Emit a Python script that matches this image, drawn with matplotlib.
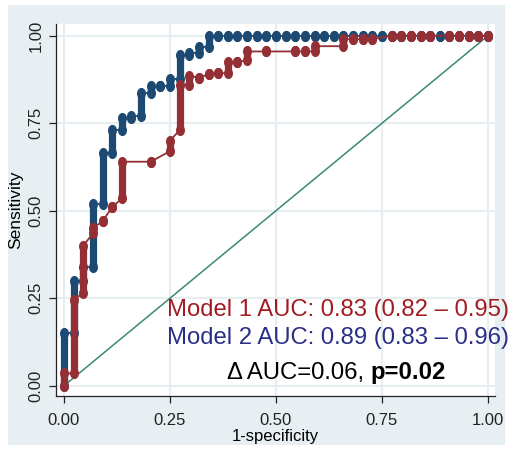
import matplotlib
matplotlib.use("Agg")
import matplotlib.pyplot as plt
from matplotlib import font_manager
from matplotlib.path import Path
from matplotlib.patches import Rectangle
import numpy as np

# ROC points: fp = number of false positives (out of n_neg), tpr stacks lo..hi
n_neg = 44

m2_fp = [0, 1, 2, 3, 4, 5, 6, 7, 8, 9, 10, 11, 12, 13, 14, 15,
         16, 17, 18, 19, 20, 21, 22, 23, 24, 25, 26, 27, 28, 29, 30,
         31, 32, 33, 34, 35, 36, 37, 38, 39, 40, 41, 42, 43, 44]
m2_lo = [0.00, 0.15, 0.30, 0.34, 0.52, 0.665, 0.73, 0.765, 0.77, 0.835, 0.855, 0.855, 0.875, 0.945, 0.95, 0.967,
         1.0, 1.0, 1.0, 1.0, 1.0, 1.0, 1.0, 1.0, 1.0, 1.0, 1.0, 1.0, 1.0, 1.0, 1.0,
         1.0, 1.0, 1.0, 1.0, 1.0, 1.0, 1.0, 1.0, 1.0, 1.0, 1.0, 1.0, 1.0, 1.0]
m2_hi = [0.15, 0.30, 0.34, 0.52, 0.665, 0.73, 0.765, 0.77, 0.835, 0.855, 0.855, 0.875, 0.945, 0.95, 0.967, 1.0,
         1.0, 1.0, 1.0, 1.0, 1.0, 1.0, 1.0, 1.0, 1.0, 1.0, 1.0, 1.0, 1.0, 1.0, 1.0,
         1.0, 1.0, 1.0, 1.0, 1.0, 1.0, 1.0, 1.0, 1.0, 1.0, 1.0, 1.0, 1.0, 1.0]

m1_fp = [0, 1, 2, 3, 4, 5, 6, 9, 11, 12, 13, 14, 15, 16, 17, 18, 19, 21, 24, 25, 26,
         29, 30, 31, 32, 34, 35, 36, 37, 38, 40, 41, 42, 43, 44]
m1_lo = [0.00, 0.035, 0.265, 0.435, 0.47, 0.51, 0.535, 0.64, 0.67, 0.73, 0.86, 0.88, 0.89, 0.893, 0.893, 0.924, 0.93,
         0.955, 0.955, 0.955, 0.955, 0.97, 0.99, 0.99, 0.99, 1.0, 1.0, 1.0, 1.0, 1.0, 1.0, 1.0, 1.0, 1.0, 1.0]
m1_hi = [0.035, 0.245, 0.40, 0.45, 0.47, 0.51, 0.64, 0.64, 0.70, 0.86, 0.885, 0.88, 0.89, 0.893, 0.924, 0.924, 0.955,
         0.955, 0.955, 0.955, 0.97, 0.99, 0.99, 0.99, 0.99, 1.0, 1.0, 1.0, 1.0, 1.0, 1.0, 1.0, 1.0, 1.0, 1.0]

ticks = [0, 0.25, 0.5, 0.75, 1.0]
tick_labels = ["0.00", "0.25", "0.50", "0.75", "1.00"]

line1 = "Model 1 AUC: 0.83 (0.82 \u2013 0.95)"
line2 = "Model 2 AUC: 0.89 (0.83 \u2013 0.96)"
line3a = "\u0394 AUC=0.06, "
line3b = "p=0.02"

RED = "#952f36"
BLUE = "#1c4a73"
GREEN = "#3a8a72"
BG = "#e8eff2"

names = set(font_manager.get_font_names())
narrow = "Liberation Sans Narrow" if "Liberation Sans Narrow" in names else "Liberation Sans"

fig = plt.figure(figsize=(5.11, 4.49), dpi=100)
fig.patch.set_facecolor("white")
fig.patches.append(Rectangle((8 / 511, 4 / 449), 497 / 511, 440 / 449,
                             transform=fig.transFigure, facecolor=BG,
                             edgecolor="none", zorder=-10))

ax = fig.add_axes([56 / 511, 53 / 449, 439 / 511, 372 / 449])
ax.set_facecolor("white")
ax.set_xlim(-8 / 424, 431 / 424)
ax.set_ylim(-10.3 / 350, 361.7 / 350)

for s in ["top", "right"]:
    ax.spines[s].set_visible(False)
for s in ["left", "bottom"]:
    ax.spines[s].set_color("#222222")
    ax.spines[s].set_linewidth(0.9)

ax.set_xticks(ticks)
ax.set_xticklabels(tick_labels, family=narrow, fontsize=12, color="#222222")
ax.set_yticks(ticks)
ax.set_yticklabels(tick_labels, family="Liberation Sans", fontsize=12,
                   rotation=90, va="center", color="#222222")
ax.tick_params(axis="both", length=5, width=0.9, color="#222222")
ax.tick_params(axis="x", pad=7)
ax.tick_params(axis="y", pad=4)
ax.grid(True, color="#e6eef1", linewidth=1.6)
ax.set_axisbelow(True)

ax.set_xlabel("1-specificity", family=narrow, fontsize=12, labelpad=1)
ax.set_ylabel("Sensitivity", family="Liberation Sans", fontsize=12.5, labelpad=4)

# reference line
ax.plot([0, 1], [0, 1], color=GREEN, linewidth=1.1, zorder=2)

circ = Path.unit_circle()
ellipse = Path(circ.vertices * np.array([0.78, 1.0]), circ.codes)


def draw_roc(fp, lo, hi, color, z):
    x = np.array(fp) / n_neg
    lo = np.array(lo)
    hi = np.array(hi)
    px = np.repeat(x, 2)
    py = np.column_stack([lo, hi]).ravel()
    ax.plot(px, py, color=color, linewidth=1.3, zorder=z)
    tall = hi > lo
    ax.vlines(x[tall], lo[tall], hi[tall], color=color, linewidth=5.2,
              capstyle="round", zorder=z)
    ax.plot(px, py, linestyle="none", marker=ellipse, markersize=7,
            markerfacecolor=color, markeredgecolor=color, zorder=z)


draw_roc(m2_fp, m2_lo, m2_hi, BLUE, 3)
draw_roc(m1_fp, m1_lo, m1_hi, RED, 4)

fs = 17.2
ax.text(0.646, 0.216, line1, color="#a11c22", fontsize=fs, family="Liberation Sans",
        ha="center", va="center", zorder=6)
ax.text(0.646, 0.136, line2, color="#2a2f86", fontsize=fs, family="Liberation Sans",
        ha="center", va="center", zorder=6)
t3 = ax.text(0.384, 0.036, line3a, color="black", fontsize=fs, family="Liberation Sans",
             ha="left", va="center", zorder=6)
ax.annotate(line3b, xy=(1, 0), xycoords=t3, ha="left", va="bottom",
            fontsize=fs, family="Liberation Sans", fontweight="bold", color="black",
            zorder=6)

fig.savefig("out.png", dpi=100, facecolor=fig.get_facecolor())
